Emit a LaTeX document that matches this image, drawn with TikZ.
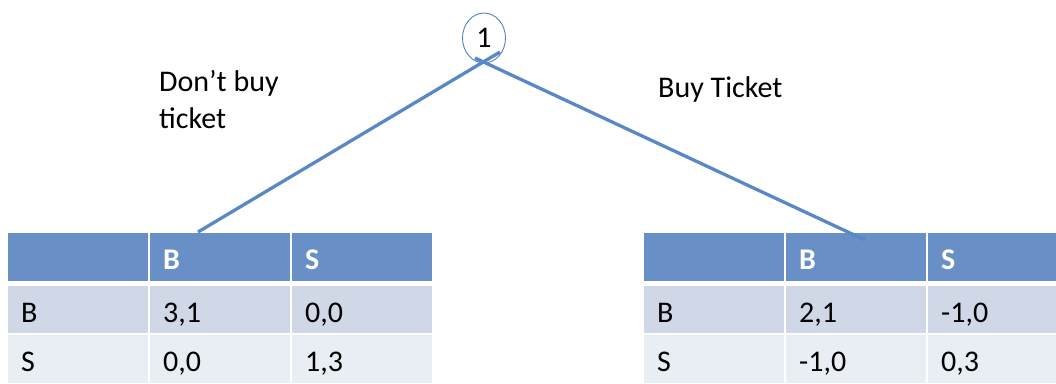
\documentclass[tikz,border=0pt]{standalone}
\usepackage{fontspec}
\setmainfont{Carlito}
\usetikzlibrary{shapes.geometric}
\definecolor{hdr}{HTML}{6890C6}
\definecolor{rowa}{HTML}{D0D8E8}
\definecolor{rowb}{HTML}{E9EDF4}
\definecolor{edgec}{HTML}{5A88C6}
\definecolor{ringc}{HTML}{4F81BD}
\begin{document}
\begin{tikzpicture}[x=1pt,y=-1pt,
  font=\fontsize{30}{37}\selectfont,
  cell/.style={rectangle, anchor=north west, inner xsep=13pt, inner ysep=0pt,
    text height=25pt, text depth=0pt, text width=114pt, align=left},
  hcell/.style={cell, fill=hdr, text=white, font=\fontsize{30}{37}\selectfont\bfseries, minimum height=48pt},
  acell/.style={cell, fill=rowa, minimum height=47pt},
  bcell/.style={cell, fill=rowb, minimum height=48pt},
  branch/.style={draw=edgec, line width=3.3pt},
  lbl/.style={anchor=base west, inner sep=0pt, align=left}]
\useasboundingbox (0,0) rectangle (1056,383);
% left table
\node[hcell] (l00) at (8,233) {};
\node[hcell] (l01) at (150,233) {B};
\node[hcell] (l02) at (292,233) {S};
\node[acell] (l10) at (8,286) {B};
\node[acell] (l11) at (150,286) {3,1};
\node[acell] (l12) at (292,286) {0,0};
\node[bcell] (l20) at (8,335) {S};
\node[bcell] (l21) at (150,335) {0,0};
\node[bcell] (l22) at (292,335) {1,3};
% right table
\node[hcell] (r00) at (644,233) {};
\node[hcell] (r01) at (786,233) {B};
\node[hcell] (r02) at (928,233) {S};
\node[acell] (r10) at (644,286) {B};
\node[acell] (r11) at (786,286) {2,1};
\node[acell] (r12) at (928,286) {-1,0};
\node[bcell] (r20) at (644,335) {S};
\node[bcell] (r21) at (786,335) {-1,0};
\node[bcell] (r22) at (928,335) {0,3};
% root
\node[ellipse, draw=ringc, line width=0.9pt, minimum width=43pt, minimum height=50pt, inner sep=0pt] (root) at (484,38) {1};
\coordinate (lstart) at (500,52);
\coordinate (rstart) at (475,58);
\coordinate (lend) at (198,232);
\coordinate (rend) at (865,240);
\draw[branch] (lstart) -- (lend);
\draw[branch] (rstart) -- (rend);
% labels
\node[lbl] (dl) at (159,128) {Don’t buy\\ticket};
\node[lbl] (bl) at (658,97) {Buy Ticket};
\end{tikzpicture}
\end{document}
